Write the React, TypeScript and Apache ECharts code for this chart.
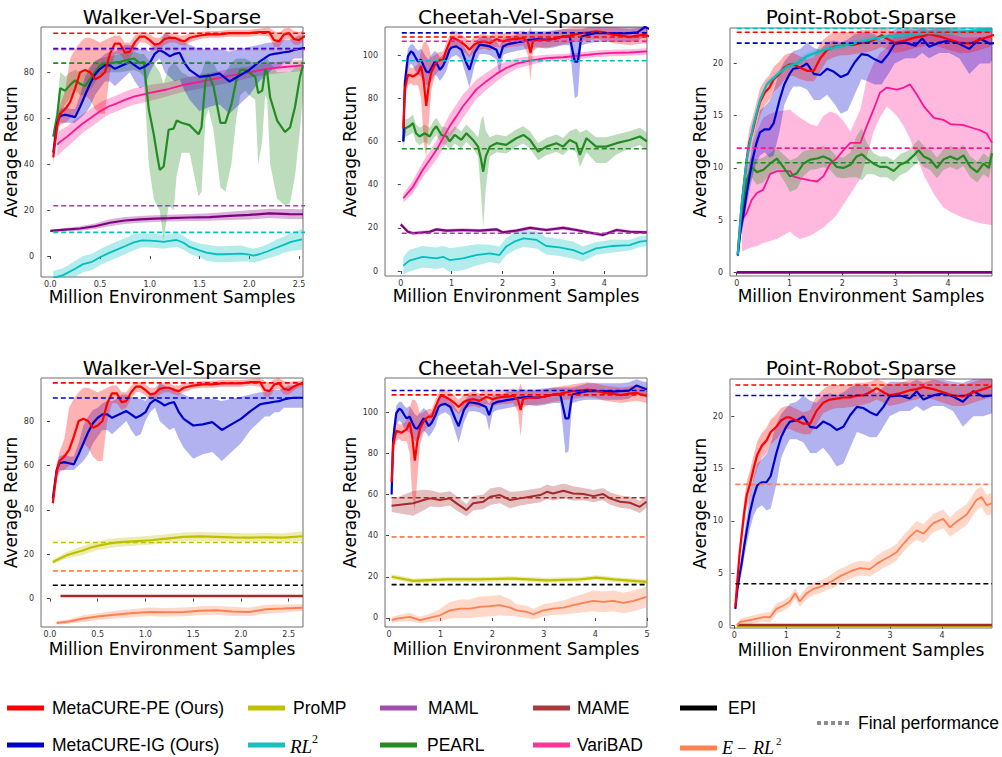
import React, { useEffect, useRef } from "react";
import * as echarts from "echarts";

// ================= Walker-Vel-Sparse =================
// MetaCURE curves (shared by both rows)
const walkerX = [0.03,0.07,0.1,0.15,0.2,0.25,0.3,0.35,0.4,0.45,0.5,0.55,0.6,0.65,0.7,0.75,0.8,0.85,0.9,0.95,1.0,1.05,1.1,1.15,1.2,1.25,1.3,1.35,1.4,1.5,1.6,1.7,1.8,1.9,2.0,2.1,2.2,2.25,2.3,2.35,2.4,2.45,2.5,2.55,2.6,2.65];
const walkerPE = [43,57,62,64,67,73,80,81,80,77,78,80,88,92.5,92.5,88.5,89,93,95.5,95.5,94,92,92.5,94.5,95,95,94,93.5,95,96,96.5,96.5,97,97,97,97.5,97.5,94,93.5,96.5,97,94.5,94,95.5,96.5,97];
const walkerPELo = [40,53,57,58,60,62,66,70,68,64,62,62,80,88,88,85,86,90,93,93,91.5,89.5,90,92,93,93,92,91.5,93,94.5,95,95,95.5,95.5,95.5,96,95.5,91,91,94,94.5,92,92,93.5,95,95.5];
const walkerPEHi = [46,60,66,72,86,90,93,95,95,94,93,94,95,96,96,93,93,96,97.5,97.5,96.5,95,95,97,97,97,96,96,97,97.5,98,98,98.5,98.5,98.5,99,99.5,98,97,99,99.5,98,97.5,98,98,98.5];
const walkerIG = [45,58,61,61.5,61,60.5,65,70,75,79,81.5,83,83,81.5,82.5,83.5,84.5,83,81.5,82.5,84,88,89.7,88.5,87,88,88.5,84,81,78,78.5,79.5,76,78.5,81,84.5,87.5,88,88.3,88.7,89,89.7,90.2,90.5,90.5,90.5];
const walkerIGLo = [42,55,58,58,58,58,60,62,65,70,73,76,76,74,76,78,80,76,73,74,80,84,86,80,78,76,77,72,68,63,65,66,62,66,70,76,80,82,82,84,84,86,86,86,86,86];
const walkerIGHi = [48,61,64,65,64,64,70,78,82,85,86,88,89,89,90,92,92,91,90,90,89,92,93,97,96,95,95,93,92,90,90,90,89,90,91,92,93,93,94,94,94,95,96,96,97,97];
// top row baselines
const walkerPearlX = [0.03,0.07,0.1,0.15,0.2,0.25,0.3,0.35,0.43,0.5,0.6,0.7,0.84,0.9,0.94,0.99,1.04,1.07,1.1,1.14,1.19,1.24,1.27,1.32,1.4,1.49,1.52,1.56,1.59,1.64,1.71,1.76,1.82,1.87,1.91,1.96,2.0,2.06,2.09,2.13,2.16,2.18,2.21,2.28,2.36,2.41,2.46,2.51,2.54];
const walkerPearl = [52,61,73,72,74.5,76.5,75,74,79,83,84,84.5,86,84,84.5,64,53,45,37.5,39,55,55.5,59,58,57,53,56,76.5,79,74,58,58,66,76.5,81,81,80,78,71,72,81,80,69,59,54,56,65,78,83];
const walkerPearlLo = [49,55,62,66,69,72,70,70,74,79,80,80,81,80,78,40,25,22,20,7,22,20,35,45,45,26,28,60,64,55,30,28,40,60,70,72,70,68,40,50,70,68,40,25,22,23,35,55,70];
const walkerPearlHi = [55,65,80,78,80,81,80,80,84,86,87,88,89,88,88,85,84,82,80,75,82,84,83,80,78,78,80,85,85,84,78,80,84,86,86,86,85,84,84,84,86,86,84,80,80,80,82,84,86];
const walkerVbX = [0.07,0.1,0.17,0.25,0.33,0.42,0.5,0.58,0.67,0.75,0.84,1.0,1.17,1.34,1.5,1.67,1.84,2.0,2.18,2.35,2.54];
const walkerVb = [48.5,49.8,52,55,57.8,60.5,63,65,66.5,68,69.4,71,72.5,74.5,75.8,77.3,78.8,80,81.5,82.3,83];
const walkerVbSpread = [5,5,4.5,4.5,4,4,4,3.5,3.5,3.5,3.5,3.5,3,3,3,3,3,2.5,2.5,2.5,2.5];
const walkerMamlX = [0,0.15,0.3,0.45,0.6,0.75,0.9,1.05,1.2,1.4,1.6,1.8,2.0,2.2,2.4,2.54];
const walkerMaml = [11,11.5,12,13,14.5,15.5,16,16.3,16.5,16.8,17,17.5,17.9,18.6,18.3,18.2];
const walkerMamlSpread = [0.5,0.7,1,1.2,1.5,1.5,1.5,1.5,1.5,1.5,1.6,1.8,2,2,2.2,2.2];
const walkerRl2X = [0.03,0.13,0.25,0.33,0.42,0.5,0.58,0.67,0.75,0.84,0.92,1.0,1.07,1.14,1.2,1.27,1.34,1.4,1.5,1.57,1.67,1.75,1.84,1.92,2.0,2.04,2.1,2.18,2.26,2.34,2.42,2.53];
const walkerRl2 = [-9.5,-8.3,-5.5,-3.5,-2.5,-0.5,1.2,2.8,4.3,6,6.8,6.7,6.5,6.2,6.6,7,5.8,4,2.5,1.5,0.8,0.8,1.0,1.1,0.6,0.2,0.8,2.0,3.4,4.8,6.2,7.3];
const walkerRl2Spread = [3,3,3.5,3.5,3.5,3.5,3.5,3.5,3.5,3.5,3,3,3,3,3,3,3,3,3,3.5,3.5,3.5,3.5,3.5,3,3,3,3,3.5,3.5,4,4.5];
// bottom row baselines
const walkerProX = [0.03,0.1,0.18,0.27,0.35,0.43,0.52,0.61,0.7,0.87,1.05,1.22,1.4,1.57,1.74,1.91,2.09,2.26,2.44,2.65];
const walkerPro = [16.5,18,19.6,20.8,21.8,23,24,24.7,25.3,25.8,26.3,27,27.8,28,27.8,27.6,27.5,27.6,27.5,28.1];
const walkerProSpread = [1,1.2,1.5,1.8,2,2,2,2,2,2,2,2,2,2,2,2,2,2,2,2.2];
const walkerMameX = [0.11,2.65];
const walkerMame = [1.2,1.2];
const walkerErlX = [0.07,0.2,0.35,0.52,0.7,0.87,1.05,1.22,1.4,1.57,1.74,1.91,2.09,2.26,2.44,2.65];
const walkerErl = [-11,-10.3,-9,-8,-7.2,-6.5,-6,-6.2,-6,-5.5,-5.3,-5.8,-6,-4.8,-4.5,-4.1];
const walkerErlSpread = [0.8,1,1.5,1.5,1.8,1.8,2,2,2,2,2,2,2,2,1.8,1.5];
// final performance (dashed)
const walkerTopFinalKeys = ["pe","ig","varibad","pearl","maml","rl2"];
const walkerTopFinalVals = [97,90.3,89.9,84,21.9,10.3];
const walkerBotFinalKeys = ["pe","ig","promp","erl2","epi"];
const walkerBotFinalVals = [97.2,90.4,25.3,12.5,6.0];

// ================= Cheetah-Vel-Sparse =================
const cheetahX = [0.05,0.08,0.14,0.2,0.24,0.3,0.34,0.4,0.45,0.5,0.55,0.6,0.67,0.72,0.77,0.83,0.9,0.96,1.0,1.09,1.19,1.29,1.35,1.45,1.55,1.65,1.75,1.88,1.94,2.01,2.1,2.21,2.3,2.41,2.5,2.55,2.6,2.7,2.86,3.0,3.19,3.32,3.42,3.48,3.55,3.7,3.84,4.0,4.17,4.33,4.5,4.65,4.8,4.9,5.0];
const cheetahPE = [66,84,90.9,90.5,90,91,91.6,95,88,76.5,86,92,95.5,97,97.8,97.8,102.5,106,108,107.4,106,104,102.5,105,106,106.3,105.5,107.4,107,106.3,107,107.4,107.5,107.9,106,101,106.5,107,107,107.5,108.6,109,109.5,109.8,110.2,110.5,111,110.5,109.4,109,108.3,109,109.4,108.5,108];
const cheetahPELo = [62,78,86,87,86,86,86,80,60,52,68,84,90,92,93,94,98,102,104,104,102.5,100.5,99,101.5,102.5,103,102,104,103.5,103,103.5,104,104,104.5,100,88,102,103.5,103.5,104,105,105.5,106,106,106.5,107,107.5,107,105.5,105,104.5,105,105.5,105,104.5];
const cheetahPEHi = [70,88,95,94,94,95,96,102,106,106,104,99,100,101,101.5,101.5,106,109,111.5,111,109.5,107.5,106,108.5,109.5,110,109,111,110.5,110,110.5,111,111,111.5,110,114,110,110.5,110.5,111,112,112.5,113,113,113.5,114,114.5,114,113,112.5,112,112.5,113,112,111.5];
const cheetahIG = [60,87,99.4,101.7,101,98.5,97,97.8,95,92.4,92,94,97,95.5,93.2,95,98.5,102.5,103.5,104,102.5,96.3,93.2,101,104.8,104.5,104,102.5,98.6,104,105,105.5,106,106.3,107,107,107.2,107.4,107,107.5,108.6,108.6,97,97,108.6,109.5,110.2,110.2,110.2,110,110.2,110.5,113,112,111];
const cheetahIGLo = [56,80,94,96,95,92,91,90,88,86,86,88,91,90,88,90,93,98,99,100,98,90,85,95,100.5,100.5,100,98,91,100,101,101.5,102,102.5,103,103,103.5,103.5,103,103.5,104.5,104.5,80,81,104.5,105.5,106,106,106,106,106,106.5,109,108,107];
const cheetahIGHi = [64,92,103,105,105,103,102,103,101,99,98,100,102,101,99,100,103,106,107,107.5,106,102,100,105,108.5,108.5,108,106.5,104,108,108.5,109,110,110,111,111,111,111,111,111.5,112,112,112,112,112,113,114,114,114,114,114,114.5,116,115,114.5];
// top row baselines
const cheetahPearlX = [0.05,0.08,0.17,0.24,0.3,0.37,0.47,0.57,0.64,0.7,0.8,0.9,0.96,1.06,1.19,1.29,1.42,1.52,1.58,1.62,1.67,1.75,1.88,2.07,2.27,2.41,2.54,2.7,2.86,3.06,3.19,3.32,3.45,3.52,3.65,3.84,4.04,4.24,4.5,4.7,4.84];
const cheetahPearl = [60,66,67,68.5,63.8,62.3,63.8,62.3,65.4,67,63,62.3,60,63,60.7,63.8,60.7,57.6,51.5,46,53,57.6,59.2,58.4,61.5,63,60.7,55.3,57.6,59.2,57.6,60.7,59.2,53.8,61.5,57.6,57.6,59.2,60.7,62.3,60];
const cheetahPearlLo = [56,62,63,64,59.8,58.3,59.8,58.3,61.4,63,59,58.3,56,59,56.7,59.8,56.7,53,35,20,38,53,55,54.4,57.5,59,56.7,51.3,53.6,55.2,53.6,56.7,55,48,55,50,50,54,56.7,58.3,56];
const cheetahPearlHi = [64,70,71,72.5,67.8,66.3,67.8,66.3,69.4,71,67,66.3,64,67,64.7,67.8,64.7,62,70,72,65,62,63.2,62.4,65.5,67,64.7,59.3,61.6,63.2,61.6,64.7,66,64,65.5,62,62,63.2,64.7,66.3,64];
const cheetahVbX = [0.05,0.24,0.43,0.57,0.7,0.83,0.96,1.09,1.22,1.35,1.48,1.68,1.88,2.07,2.27,2.54,2.86,3.19,3.52,3.84,4.17,4.5,4.84];
const cheetahVb = [33.7,39,46.8,51.5,56,61.5,67,71.5,76.2,80,84,87.8,91.3,94,96,97.4,98.6,99,99.7,100.6,101,101.2,101.7];
const cheetahVbSpread = [2,3,3.5,4,4.5,5,5.5,5.5,5.5,5,4.5,4,3.5,3,2.5,2,1.5,1.5,1.5,1.5,1.5,1.5,1.5];
const cheetahMamlX = [0,0.14,0.24,0.57,0.7,0.9,1.22,1.55,1.88,2.01,2.27,2.54,2.86,3.19,3.45,3.78,3.97,4.24,4.5,4.84];
const cheetahMaml = [21.6,18.2,17.5,18.2,19.3,18.7,19,18.7,19.3,17.9,18.7,20,19,20,19,17.5,16.7,19,18.2,17.9];
const cheetahMamlSpread = [0.8,0.8,0.8,0.8,0.8,0.8,0.8,0.8,0.8,0.8,0.8,0.8,0.8,0.8,0.8,0.8,0.8,0.8,0.8,0.8];
const cheetahRl2X = [0.05,0.17,0.43,0.7,0.83,0.96,1.22,1.48,1.75,1.94,2.07,2.23,2.41,2.67,2.86,3.12,3.39,3.58,3.84,4.17,4.5,4.7,4.84];
const cheetahRl2 = [2.5,4.8,6.6,5.9,6.6,5.1,5.9,7.4,8.2,7.4,11.3,13.6,15.1,14.4,11.6,11,9.7,7.9,10.5,11.6,12,13.6,14];
const cheetahRl2Spread = [4,5,5,5,5,5.5,5.5,5,4,4,4,4,4,4,4,4,4,3.5,3,3,2.5,2.5,2.5];
// bottom row baselines
const cheetahMameX = [0.05,0.47,0.67,0.8,0.99,1.18,1.31,1.5,1.63,1.83,1.96,2.15,2.35,2.54,2.73,2.93,3.06,3.18,3.38,3.57,3.77,3.96,4.15,4.28,4.48,4.67,4.86,4.99];
const cheetahMame = [54.5,55.7,57.3,58.1,57.3,58.1,55.7,52.4,55.7,56.5,58.9,59.7,57.3,58.1,58.9,59.7,61.3,60.5,61.8,60.5,60.2,59.2,60.2,58.1,56.5,56,54,56.5];
const cheetahMameSpread = [3,6,5,4,3.5,3.5,3.5,3,3.5,3.5,4,4,4,3.5,3.5,3.5,3.5,3.5,3.5,3.5,3,3,3,3,3,3,3,3];
const cheetahProX = [0.05,0.47,1.12,1.76,2.41,3.06,3.7,4.02,4.35,5.0];
const cheetahPro = [20,18,18.7,18.7,19.1,18.3,18.7,19.6,18.7,17.5];
const cheetahProSpread = [1.2,1.2,1.2,1.2,1.2,1.2,1.2,1.2,1.2,1.2];
const cheetahErlX = [0.05,0.15,0.4,0.6,0.8,0.99,1.18,1.38,1.57,1.76,1.96,2.15,2.35,2.47,2.67,2.8,2.99,3.18,3.38,3.57,3.77,3.96,4.15,4.35,4.54,4.74,4.99];
const cheetahErl = [-1.1,-0.3,0.5,-1.1,0.2,1.3,3.7,4.5,4.5,5.4,5.7,6.2,5,3.7,2.9,1.8,3.7,4.5,5,6.2,7.3,8.3,7.8,8.3,7.3,8.3,10.2];
const cheetahErlSpread = [1.5,1.5,2,1.5,2,3,4,4.5,4.5,5,5,5,4,3,3,2.5,3,3,3.5,4,4.5,5,5,5,5,5,5];
const cheetahTopFinalKeys = ["ig","pe","varibad","rl2","pearl","maml"];
const cheetahTopFinalVals = [110.3,108.4,106.4,97.4,56.6,17.5];
const cheetahBotFinalKeys = ["ig","pe","mame","erl2","epi"];
const cheetahBotFinalVals = [110.5,108.4,58.4,39.4,16.2];

// ================= Point-Robot-Sparse =================
const pointX = [0.02,0.06,0.1,0.14,0.19,0.24,0.3,0.37,0.44,0.53,0.62,0.7,0.81,0.9,1.0,1.07,1.2,1.33,1.46,1.58,1.71,1.84,1.97,2.1,2.23,2.36,2.48,2.61,2.74,2.87,2.99,3.19,3.38,3.51,3.64,3.83,4.02,4.21,4.4,4.6,4.79,4.96];
const pointPE = [1.8,4.4,6.8,8.6,10.8,12.5,13.5,15,16.3,17.2,17.7,18.5,19,19.6,19.9,19.9,19.6,19.3,19.3,20.5,21.3,21.6,21.7,21.8,21.8,22,22,22.3,22.7,22.3,22,22.2,22.5,22.6,22.8,22.6,22.3,22,21.9,22.3,22.6,22.9];
const pointPELo = [1.5,3.8,6,7.6,9.6,11.2,12.2,13.8,15,16,16.5,17.3,17.8,18.4,18.8,18.8,18.5,18.3,18.3,19.2,20.3,20.6,20.8,20.8,20.9,21,21.1,21.3,21.6,21.3,21,21.2,21.5,21.6,21.8,21.6,21.3,21,21,21.3,21.6,21.9];
const pointPEHi = [2.1,5,7.6,9.6,12,13.8,14.8,16.2,17.6,18.4,18.9,19.7,20.2,20.8,21,21,20.7,20.4,20.6,22,22.6,23,23,23,23,23.2,23.2,23.3,23.6,23.3,23,23.2,23.5,23.6,23.8,23.6,23.3,23,23,23.3,23.6,23.9];
const pointIG = [1.6,3.5,4.8,5.9,7.6,9.1,10.8,12.3,13.4,13.7,13.7,14.3,16.5,18,19,19.5,19.6,20,19,18.9,19.5,19.2,18.7,19,20.1,20.9,20.8,20.4,20.1,20.9,21.9,22,21.7,22.4,21.6,22,22.2,21.9,21.4,22.4,21.9,22];
const pointIGLo = [1.3,3,4,5,6.5,7.8,9.2,10.5,11.2,11.5,11,11.2,13.5,16,17.2,17.8,17.8,17.5,16.5,16.5,17,16.2,15.2,15.5,17,18.5,18.3,18,18,19,20,20.5,20.5,21,20.5,21,21,20.5,19,20,20,20.3];
const pointIGHi = [1.9,4,5.6,6.8,8.7,10.4,12.4,14,15.5,15.9,16.4,17.4,19.3,20.2,20.8,21.2,21.4,22,21.5,21.3,22,22.2,22,22.3,22.8,23,23,22.8,22.2,22.8,23.3,23.3,23.2,23.5,23.2,23.5,23.5,23.3,23.2,23.6,23.6,23.6];
// top row baselines
const pointRl2X = [0.02,0.09,0.19,0.31,0.44,0.57,0.76,0.95,1.14,1.33,1.58,1.89,2.2,2.52,2.84,3.16,3.47,3.79,4.1,4.42,4.83];
const pointRl2 = [1.7,6.3,10.8,14,16.5,18,18.9,19.7,20,20.7,21.2,21.6,21.9,22.3,22.6,22.7,22.9,22.9,23,23.1,23.2];
const pointRl2Spread = [0.2,0.3,0.3,0.3,0.3,0.3,0.3,0.3,0.3,0.3,0.3,0.3,0.3,0.3,0.3,0.3,0.3,0.3,0.3,0.3,0.3];
const pointPearlX = [0.02,0.09,0.19,0.28,0.38,0.5,0.63,0.76,0.88,1.01,1.14,1.26,1.39,1.52,1.64,1.77,1.89,2.02,2.15,2.27,2.37,2.46,2.59,2.71,2.84,2.97,3.09,3.22,3.35,3.44,3.54,3.66,3.79,3.91,4.04,4.17,4.29,4.42,4.55,4.67,4.77,4.83];
const pointPearl = [1.7,5.3,8.8,10.1,9.6,9.8,10.4,10.9,10.1,9.2,9.5,10.4,10.8,10.9,11.1,10.8,10.1,10,10.3,11.1,11.3,10.9,10.4,10.1,10.1,9.7,10.3,10.6,11.2,11.7,11.1,10.8,10,10.8,11.1,10.8,11.2,10.1,9.6,10.4,10,11.4];
const pointPearlSpread = [0.3,1,1.2,1,1.2,1.2,1,1,1.2,1.5,1.5,1.2,1,1,1,1,1,1,1.2,2,2.5,1.5,1,1,1,1,1,1,1,1,1,1,1,1,1,1,1,1,1,1,1,1];
const pointVbX = [0.1,0.19,0.28,0.38,0.5,0.63,0.76,1.01,1.07,1.2,1.39,1.52,1.64,1.77,1.89,2.02,2.15,2.34,2.46,2.59,2.71,2.84,3.03,3.16,3.28,3.41,3.54,3.73,3.91,4.04,4.29,4.48,4.61,4.73,4.83];
const pointVb = [5,5.7,6.9,7.6,7.9,9.4,9.7,9.7,9.2,9,8.8,8.7,9.2,10.4,10.9,11.7,12.4,12.4,14,15.6,17.2,17.7,17.5,17.7,18,17,15.9,14.8,14.6,14.2,14.1,13.8,13.6,13.3,12.4];
const pointVbLo = [2,2.2,2.4,2.5,2.8,3,3.2,3.9,3.6,3.2,3.5,3.9,4.3,4.9,5.5,6.5,7.5,9,11,13.5,14.8,15.9,15,14,12.8,11,9.3,7.5,6.2,5.8,5.2,4.9,4.7,4.6,4.5];
const pointVbHi = [8,10,12,13.5,14.8,15.2,15.4,15.6,15.3,14.8,14.2,14,15,15.4,15.2,14.5,13.5,15.6,18.5,20,21,21.5,23,23,23,23,23,23,23,22.8,22.5,22.5,22.5,22.5,22.5];
const pointMamlX = [0,1,2,3,4,4.83];
const pointMaml = [0,0,0,0,0,0];
// bottom row baselines
const pointProX = [0.05,1,2,3,4,4.96];
const pointPro = [0,0,0,0,0,0];
const pointMameX = [0.05,1,2,3,4,4.96];
const pointMame = [0.06,0.06,0.06,0.06,0.06,0.06];
const pointErlX = [0.05,0.11,0.37,0.56,0.69,0.81,0.94,1.07,1.17,1.26,1.39,1.52,1.65,1.78,1.9,2.03,2.16,2.29,2.42,2.61,2.74,2.87,2.99,3.12,3.25,3.38,3.51,3.64,3.83,4.02,4.15,4.27,4.47,4.66,4.76,4.86,4.96];
const pointErl = [0,0.35,0.6,0.8,0.8,1.6,1.9,2.3,3.1,2.3,3.1,3.5,3.7,4,4.3,4.7,5,5.3,5.5,5.4,5.9,6.3,6.6,7,7.8,8.5,9.1,8.8,9.8,10.2,9.4,9.9,10.6,12,12.3,11.5,11.7];
const pointErlSpread = [0.2,0.3,0.4,0.4,0.5,0.5,0.5,0.5,0.5,0.5,0.6,0.6,0.6,0.6,0.7,0.7,0.7,0.7,0.7,0.7,0.8,0.8,0.8,0.8,0.8,0.8,0.9,0.9,0.9,0.9,0.9,1,1,1,1,1,1];
const pointTopFinalKeys = ["rl2","pe","ig","varibad","pearl"];
const pointTopFinalVals = [23.35,23.0,21.95,11.9,10.5];
const pointBotFinalKeys = ["pe","ig","erl2","epi"];
const pointBotFinalVals = [23.0,22.0,13.5,4.0];

// axis ticks
const walkerXTicks = [0, 0.5, 1, 1.5, 2, 2.5];
const cheetahTopXTicks = [0, 1, 2, 3, 4];
const cheetahBotXTicks = [0, 1, 2, 3, 4, 5];
const pointXTicks = [0, 1, 2, 3, 4];
const walkerYTicks = [0, 20, 40, 60, 80];
const cheetahYTicks = [0, 20, 40, 60, 80, 100];
const pointYTicks = [0, 5, 10, 15, 20];

// ---------------- styling ----------------
const COL: Record<string, string> = {
  pe: "#ff0000", ig: "#0000cd", promp: "#bfbf00", rl2: "#00bfbf", maml: "#800080",
  pearl: "#228b22", mame: "#a52a2a", varibad: "#ff1493", epi: "#000000", erl2: "#ff7f50",
};
const DASHCOL: Record<string, string> = { ...COL, maml: "#a040a0" };
const LEGCOL: Record<string, string> = { ...COL, maml: "#a24fb0", mame: "#a83c3c", varibad: "#ff3399", erl2: "#ff8050", rl2: "#1abfbf" };

const PANELS = [
  { left: 41, top: 27, width: 262, height: 250, xMin: -0.093, xMax: 2.54, yMin: -9.1, yMax: 99.7, title: "Walker-Vel-Sparse", xTicks: walkerXTicks, xDec: 1, yTicks: walkerYTicks, yGap: 18, xGap: 10 },
  { left: 385, top: 27, width: 262, height: 249, xMin: -0.31, xMax: 4.84, yMin: -2.3, yMax: 113, title: "Cheetah-Vel-Sparse", xTicks: cheetahTopXTicks, xDec: 0, yTicks: cheetahYTicks, yGap: 21, xGap: 10 },
  { left: 730, top: 28, width: 262, height: 248, xMin: -0.127, xMax: 4.83, yMin: -0.35, yMax: 23.4, title: "Point-Robot-Sparse", xTicks: pointXTicks, xDec: 0, yTicks: pointYTicks, yGap: 17, xGap: 10 },
  { left: 41, top: 378, width: 262, height: 249, xMin: -0.094, xMax: 2.65, yMin: -12.8, yMax: 99.4, title: "Walker-Vel-Sparse", xTicks: walkerXTicks, xDec: 1, yTicks: walkerYTicks, yGap: 18, xGap: 13 },
  { left: 385, top: 378, width: 262, height: 249, xMin: -0.078, xMax: 5.0, yMin: -4.4, yMax: 116.6, title: "Cheetah-Vel-Sparse", xTicks: cheetahBotXTicks, xDec: 0, yTicks: cheetahYTicks, yGap: 21, xGap: 13 },
  { left: 730, top: 379, width: 262, height: 249, xMin: -0.083, xMax: 4.96, yMin: -0.23, yMax: 23.57, title: "Point-Robot-Sparse", xTicks: pointXTicks, xDec: 0, yTicks: pointYTicks, yGap: 17, xGap: 13 },
];

function band(p: number, xs: number[], lo: number[], hi: number[], color: string): any {
  return {
    type: "custom", xAxisIndex: p, yAxisIndex: p, silent: true, z: 1,
    data: xs.map((x, i) => [x, lo[i], hi[i]]),
    encode: { x: 0, y: 1 },
    renderItem: (params: any, api: any) => {
      if (params.dataIndex !== 0) return null;
      const cs = params.coordSys;
      const cl = (pt: number[]) => [
        Math.min(Math.max(pt[0], cs.x), cs.x + cs.width),
        Math.min(Math.max(pt[1], cs.y), cs.y + cs.height),
      ];
      const up = xs.map((x, i) => cl(api.coord([x, hi[i]])));
      const dn = xs.map((x, i) => cl(api.coord([x, lo[i]]))).reverse();
      return { type: "polygon", shape: { points: up.concat(dn) }, style: { fill: color, opacity: 0.3 } };
    },
  };
}
function sband(p: number, xs: number[], m: number[], s: number[], color: string) {
  return band(p, xs, m.map((v, i) => v - s[i]), m.map((v, i) => v + s[i]), color);
}
function line(p: number, xs: number[], ys: number[], color: string, w = 2.2): any {
  return {
    type: "line", xAxisIndex: p, yAxisIndex: p, silent: true, z: 2, clip: true,
    data: xs.map((x, i) => [x, ys[i]]), symbol: "none", showSymbol: false,
    lineStyle: { color, width: w }, itemStyle: { color },
  };
}
function dashes(p: number, xs: number[], keys: string[], vals: number[]): any[] {
  return keys.map((k, i) => ({
    type: "line", xAxisIndex: p, yAxisIndex: p, silent: true, z: 3, clip: true,
    data: [[xs[0], vals[i]], [xs[xs.length - 1], vals[i]]], symbol: "none", showSymbol: false,
    lineStyle: { color: DASHCOL[k], width: 1.6, type: [5, 3] },
  }));
}

function buildSeries(): any[] {
  const s: any[] = [];
  // Panel 0: Walker top
  s.push(sband(0, walkerMamlX, walkerMaml, walkerMamlSpread, COL.maml));
  s.push(sband(0, walkerRl2X, walkerRl2, walkerRl2Spread, COL.rl2));
  s.push(sband(0, walkerVbX, walkerVb, walkerVbSpread, COL.varibad));
  s.push(band(0, walkerPearlX, walkerPearlLo, walkerPearlHi, COL.pearl));
  s.push(band(0, walkerX, walkerIGLo, walkerIGHi, COL.ig));
  s.push(band(0, walkerX, walkerPELo, walkerPEHi, COL.pe));
  s.push(line(0, walkerMamlX, walkerMaml, COL.maml, 2.2));
  s.push(line(0, walkerRl2X, walkerRl2, COL.rl2, 1.8));
  s.push(line(0, walkerVbX, walkerVb, COL.varibad, 1.8));
  s.push(line(0, walkerPearlX, walkerPearl, COL.pearl, 2.2));
  s.push(line(0, walkerX, walkerIG, COL.ig));
  s.push(line(0, walkerX, walkerPE, COL.pe));
  s.push(...dashes(0, walkerX, walkerTopFinalKeys, walkerTopFinalVals));
  // Panel 1: Cheetah top
  s.push(sband(1, cheetahMamlX, cheetahMaml, cheetahMamlSpread, COL.maml));
  s.push(sband(1, cheetahRl2X, cheetahRl2, cheetahRl2Spread, COL.rl2));
  s.push(band(1, cheetahPearlX, cheetahPearlLo, cheetahPearlHi, COL.pearl));
  s.push(sband(1, cheetahVbX, cheetahVb, cheetahVbSpread, COL.varibad));
  s.push(band(1, cheetahX, cheetahIGLo, cheetahIGHi, COL.ig));
  s.push(band(1, cheetahX, cheetahPELo, cheetahPEHi, COL.pe));
  s.push(line(1, cheetahMamlX, cheetahMaml, COL.maml, 2.2));
  s.push(line(1, cheetahRl2X, cheetahRl2, COL.rl2, 1.8));
  s.push(line(1, cheetahPearlX, cheetahPearl, COL.pearl, 2.2));
  s.push(line(1, cheetahVbX, cheetahVb, COL.varibad, 1.8));
  s.push(line(1, cheetahX, cheetahIG, COL.ig));
  s.push(line(1, cheetahX, cheetahPE, COL.pe));
  s.push(...dashes(1, [0.02, 4.84], cheetahTopFinalKeys, cheetahTopFinalVals));
  // Panel 2: Point top
  s.push(band(2, pointVbX, pointVbLo, pointVbHi, COL.varibad));
  s.push(sband(2, pointPearlX, pointPearl, pointPearlSpread, COL.pearl));
  s.push(band(2, pointX, pointIGLo, pointIGHi, COL.ig));
  s.push(band(2, pointX, pointPELo, pointPEHi, COL.pe));
  s.push(sband(2, pointRl2X, pointRl2, pointRl2Spread, COL.rl2));
  s.push(line(2, pointMamlX, pointMaml, COL.maml, 2.6));
  s.push(line(2, pointVbX, pointVb, COL.varibad, 1.8));
  s.push(line(2, pointPearlX, pointPearl, COL.pearl, 2.2));
  s.push(line(2, pointX, pointIG, COL.ig));
  s.push(line(2, pointX, pointPE, COL.pe));
  s.push(line(2, pointRl2X, pointRl2, COL.rl2, 2.2));
  s.push(...dashes(2, [0, 4.83], pointTopFinalKeys, pointTopFinalVals));
  // Panel 3: Walker bottom
  s.push(sband(3, walkerErlX, walkerErl, walkerErlSpread, COL.erl2));
  s.push(sband(3, walkerProX, walkerPro, walkerProSpread, COL.promp));
  s.push(band(3, walkerX, walkerIGLo, walkerIGHi, COL.ig));
  s.push(band(3, walkerX, walkerPELo, walkerPEHi, COL.pe));
  s.push(line(3, walkerMameX, walkerMame, COL.mame, 2.6));
  s.push(line(3, walkerErlX, walkerErl, COL.erl2, 2));
  s.push(line(3, walkerProX, walkerPro, COL.promp, 2.2));
  s.push(line(3, walkerX, walkerIG, COL.ig));
  s.push(line(3, walkerX, walkerPE, COL.pe));
  s.push(...dashes(3, walkerX, walkerBotFinalKeys, walkerBotFinalVals));
  // Panel 4: Cheetah bottom
  s.push(sband(4, cheetahMameX, cheetahMame, cheetahMameSpread, COL.mame));
  s.push(sband(4, cheetahProX, cheetahPro, cheetahProSpread, COL.promp));
  s.push(sband(4, cheetahErlX, cheetahErl, cheetahErlSpread, COL.erl2));
  s.push(band(4, cheetahX, cheetahIGLo, cheetahIGHi, COL.ig));
  s.push(band(4, cheetahX, cheetahPELo, cheetahPEHi, COL.pe));
  s.push(line(4, cheetahMameX, cheetahMame, COL.mame, 2));
  s.push(line(4, cheetahProX, cheetahPro, COL.promp, 2.2));
  s.push(line(4, cheetahErlX, cheetahErl, COL.erl2, 1.8));
  s.push(line(4, cheetahX, cheetahIG, COL.ig));
  s.push(line(4, cheetahX, cheetahPE, COL.pe));
  s.push(...dashes(4, cheetahX, cheetahBotFinalKeys, cheetahBotFinalVals));
  // Panel 5: Point bottom
  s.push(sband(5, pointErlX, pointErl, pointErlSpread, COL.erl2));
  s.push(band(5, pointX, pointIGLo, pointIGHi, COL.ig));
  s.push(band(5, pointX, pointPELo, pointPEHi, COL.pe));
  s.push(line(5, pointProX, pointPro, COL.promp, 2.6));
  s.push(line(5, pointMameX, pointMame, COL.mame, 2.6));
  s.push(line(5, pointErlX, pointErl, COL.erl2, 1.8));
  s.push(line(5, pointX, pointIG, COL.ig));
  s.push(line(5, pointX, pointPE, COL.pe));
  s.push(...dashes(5, pointX, pointBotFinalKeys, pointBotFinalVals));
  return s;
}

// legend layout
const LEG_ROWS = [
  { y: 708, items: [
    { key: "pe", x1: 7, x2: 44, tx: 52, label: "MetaCURE-PE (Ours)" },
    { key: "promp", x1: 248, x2: 285, tx: 293, label: "ProMP" },
    { key: "maml", x1: 380, x2: 417, tx: 428, label: "MAML" },
    { key: "mame", x1: 533, x2: 570, tx: 577, label: "MAME" },
    { key: "epi", x1: 680, x2: 717, tx: 728, label: "EPI" },
  ] },
  { y: 745, items: [
    { key: "ig", x1: 7, x2: 44, tx: 52, label: "MetaCURE-IG (Ours)" },
    { key: "rl2", x1: 248, x2: 285, tx: 0, label: "" },
    { key: "pearl", x1: 380, x2: 417, tx: 427, label: "PEARL" },
    { key: "varibad", x1: 533, x2: 570, tx: 577, label: "VariBAD" },
  ] },
];

function txt(x: number, y: number, text: string, size: number, family: string, extra: any = {}): any {
  return {
    type: "text", x, y, silent: true,
    style: {
      text, fontSize: size, fontFamily: family, fill: "#000",
      textAlign: "left", align: "left", textVerticalAlign: "middle", verticalAlign: "middle", ...extra,
    },
  };
}

function buildGraphic(): any[] {
  const g: any[] = [];
  PANELS.forEach((p) => {
    const cy = p.top < 100 ? 16.5 : 368;
    g.push(txt(p.left + p.width / 2, cy, p.title, 20, "DejaVu Sans", { textAlign: "center", align: "center" }));
  });
  const LF = "'Liberation Sans', Arial, sans-serif";
  LEG_ROWS.forEach((r) => {
    r.items.forEach((it) => {
      g.push({ type: "line", silent: true, shape: { x1: it.x1, y1: r.y, x2: it.x2, y2: r.y }, style: { stroke: LEGCOL[it.key], lineWidth: 5 } });
      if (it.label) g.push(txt(it.tx, r.y, it.label, 17.5, LF));
    });
  });
  const SF = "'Liberation Serif', 'DejaVu Serif', serif";
  // RL^2
  g.push(txt(290, 746, "RL", 19, SF, { fontStyle: "italic" }));
  g.push(txt(312, 739, "2", 12, SF));
  // E - RL^2
  g.push({ type: "line", silent: true, shape: { x1: 680, y1: 748, x2: 717, y2: 748 }, style: { stroke: LEGCOL.erl2, lineWidth: 5 } });
  g.push(txt(722, 748, "E", 18, SF, { fontStyle: "italic" }));
  g.push(txt(737, 748, "\u2212", 17, SF));
  g.push(txt(753, 748, "RL", 18, SF, { fontStyle: "italic" }));
  g.push(txt(776, 741, "2", 11, SF));
  // final performance
  g.push({ type: "line", silent: true, shape: { x1: 817, y1: 723, x2: 850, y2: 723 }, style: { stroke: "#8c8c8c", lineWidth: 4, lineDash: [4, 3] } });
  g.push(txt(858, 723, "Final performance", 17.5, LF));
  return g;
}

function buildOption(): any {
  const axisName = { fontSize: 17, fontFamily: "DejaVu Sans", color: "#000" };
  const tickLbl = { fontSize: 8, fontFamily: "DejaVu Sans", color: "#333" };
  return {
    animation: false,
    backgroundColor: "#ffffff",
    grid: PANELS.map((p) => ({ left: p.left, top: p.top, width: p.width, height: p.height, show: true, borderColor: "#6e6e6e", borderWidth: 1, backgroundColor: "transparent", containLabel: false })),
    xAxis: PANELS.map((p, i) => ({
      type: "value", gridIndex: i, min: p.xMin, max: p.xMax,
      name: "Million Environment Samples", nameLocation: "middle", nameGap: p.xGap, nameTextStyle: axisName,
      axisLine: { show: false }, splitLine: { show: false },
      axisTick: { show: true, length: 3, customValues: p.xTicks, lineStyle: { color: "#444" } },
      axisLabel: { ...tickLbl, margin: 3, customValues: p.xTicks, formatter: (v: number) => v.toFixed(p.xDec) },
    })),
    yAxis: PANELS.map((p, i) => ({
      type: "value", gridIndex: i, min: p.yMin, max: p.yMax,
      name: "Average Return", nameLocation: "middle", nameRotate: 90, nameGap: p.yGap, nameTextStyle: axisName,
      axisLine: { show: false }, splitLine: { show: false },
      axisTick: { show: true, length: 3, customValues: p.yTicks, lineStyle: { color: "#444" } },
      axisLabel: { ...tickLbl, margin: 7, customValues: p.yTicks, formatter: (v: number) => String(v) },
    })),
    series: buildSeries(),
    graphic: buildGraphic(),
  };
}

export default function App() {
  const ref = useRef<HTMLDivElement>(null);
  useEffect(() => {
    if (!ref.current) return;
    const chart = echarts.init(ref.current, null, { renderer: "svg" });
    chart.setOption(buildOption());
    return () => chart.dispose();
  }, []);
  return (
    <div
      ref={ref}
      style={{ position: "absolute", left: 0, top: 0, width: 1002, height: 757, background: "#fff" }}
    />
  );
}
